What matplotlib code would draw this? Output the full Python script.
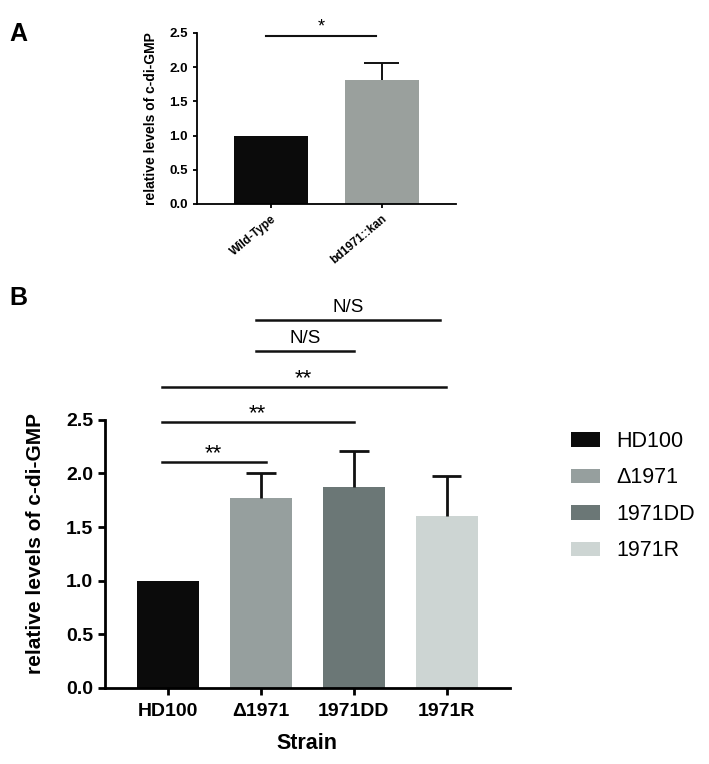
import numpy as np
import matplotlib.pyplot as plt
from matplotlib.patches import Patch

plt.rcParams['font.family'] = ['Liberation Sans', 'DejaVu Sans']

# panel A
strains_a = ['Wild-Type', 'bd1971::kan']
values_a = [1.0, 1.81]
errors_a = [0.0, 0.25]
colors_a = ['#0b0b0b', '#9aa09d']

# panel B
strains_b = ['HD100', 'Δ1971', '1971DD', '1971R']
values_b = [1.0, 1.77, 1.875, 1.605]
errors_b = [0.0, 0.23, 0.33, 0.37]
colors_b = ['#0b0b0b', '#969f9e', '#6b7776', '#cdd5d3']

# significance brackets: (start, end, height, label)
sig_a = [(-0.05, 0.95, 2.46, '*')]
sig_b = [(-0.07, 1.05, 2.11, '**'),
         (-0.07, 2.0, 2.48, '**'),
         (-0.07, 2.99, 2.81, '**'),
         (0.95, 2.0, 3.14, 'N/S'),
         (0.95, 2.93, 3.43, 'N/S')]


def style_axes(ax, lw, ticklen):
    for s in ['top', 'right']:
        ax.spines[s].set_visible(False)
    for s in ['left', 'bottom']:
        ax.spines[s].set_linewidth(lw)
    ax.tick_params(width=lw, length=ticklen)


def upper_errors(ax, x, vals, errs, lw, cap=0.16):
    # only the upper half of the error bar, like Prism draws it
    for xi, v, e in zip(x, vals, errs):
        if e <= 0:
            continue
        ax.vlines(xi, v, v + e, color='#111111', lw=lw)
        ax.hlines(v + e, xi - cap, xi + cap, color='#111111', lw=lw)


fig = plt.figure(figsize=(7.09, 7.64), dpi=100)

# ---- A ----
axA = fig.add_axes([0.278, 0.733, 0.365, 0.224])
xa = np.arange(len(strains_a))
axA.bar(xa, values_a, width=0.667, color=colors_a)
upper_errors(axA, xa, values_a, errors_a, 1.4)
axA.set_xlim(-0.67, 1.67)
axA.set_ylim(0, 2.5)
axA.set_yticks([0, 0.5, 1.0, 1.5, 2.0, 2.5])
axA.set_yticklabels(['0.0', '0.5', '1.0', '1.5', '2.0', '2.5'], fontsize=9.5, fontweight='bold')
axA.set_xticks(xa)
axA.set_xticklabels(strains_a, rotation=40, ha='right', rotation_mode='anchor',
                    fontsize=8.5, fontweight='bold')
axA.set_ylabel('relative levels of c-di-GMP', fontsize=10, fontweight='bold', labelpad=8)
style_axes(axA, 1.3, 3)
for x0, x1, h, lab in sig_a:
    axA.plot([x0, x1], [h, h], color='#111111', lw=1.5, clip_on=False)
    axA.annotate(lab, ((x0 + x1) / 2, h), xytext=(0, 3), textcoords='offset points',
                 ha='center', va='baseline', fontsize=13, annotation_clip=False)

# ---- B ----
axB = fig.add_axes([0.148, 0.0995, 0.571, 0.351])
xb = np.arange(len(strains_b))
axB.bar(xb, values_b, width=0.667, color=colors_b)
upper_errors(axB, xb, values_b, errors_b, 2.0)
axB.set_xlim(-0.68, 3.68)
axB.set_ylim(0, 2.5)
axB.set_yticks([0, 0.5, 1.0, 1.5, 2.0, 2.5])
axB.set_yticklabels(['0.0', '0.5', '1.0', '1.5', '2.0', '2.5'], fontsize=14, fontweight='bold')
axB.set_xticks(xb)
axB.set_xticklabels(strains_b, fontsize=14, fontweight='bold')
axB.set_xlabel('Strain', fontsize=15.5, fontweight='bold', labelpad=9)
axB.set_ylabel('relative levels of c-di-GMP', fontsize=15, fontweight='bold', labelpad=15, y=0.54)
style_axes(axB, 2, 5)
axB.tick_params(axis='x', pad=6)
for x0, x1, h, lab in sig_b:
    axB.plot([x0, x1], [h, h], color='#111111', lw=1.8, clip_on=False)
    if lab == 'N/S':
        axB.annotate(lab, ((x0 + x1) / 2, h), xytext=(0, 3), textcoords='offset points',
                     ha='center', va='bottom', fontsize=13.5, annotation_clip=False)
    else:
        axB.annotate(lab, ((x0 + x1) / 2, h), xytext=(0, 2), textcoords='offset points',
                     ha='center', va='baseline', fontsize=16, annotation_clip=False)

handles = [Patch(facecolor=c, edgecolor='none', label=s) for s, c in zip(strains_b, colors_b)]
fig.legend(handles=handles, loc='upper left', bbox_to_anchor=(0.79, 0.45),
           frameon=False, fontsize=15.5, handlelength=1.35, handleheight=0.65,
           handletextpad=0.75, labelspacing=0.72, borderpad=0)

fig.text(0.013, 0.955, 'A', fontsize=18, fontweight='bold', va='center')
fig.text(0.013, 0.61, 'B', fontsize=18, fontweight='bold', va='center')

fig.savefig('out.png', dpi=100)
